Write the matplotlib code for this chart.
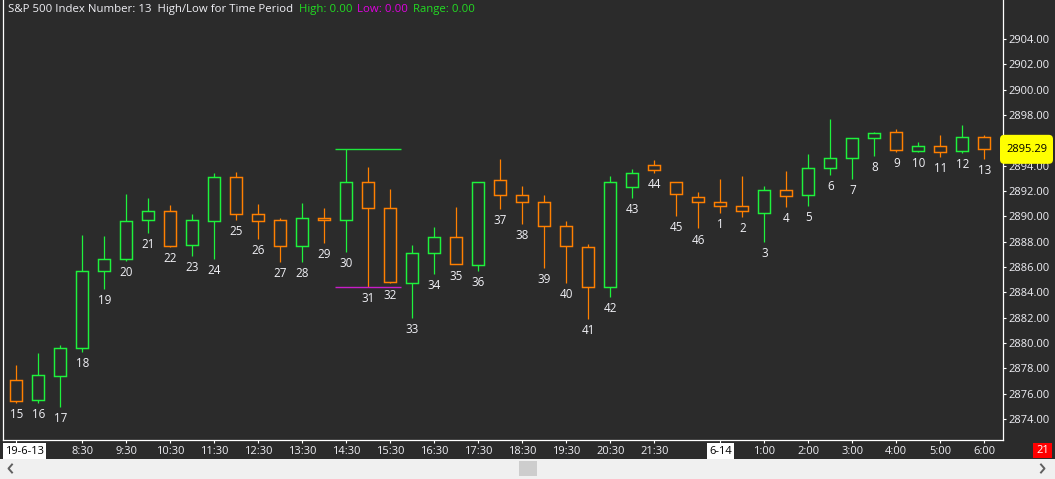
import matplotlib
matplotlib.use("Agg")
import matplotlib.pyplot as plt
from matplotlib.patches import Rectangle, FancyBboxPatch
from matplotlib.lines import Line2D
import matplotlib.transforms as mtransforms

# ---------------- data ----------------
bar_numbers = [15, 16, 17, 18, 19, 20, 21, 22, 23, 24, 25, 26, 27, 28, 29, 30,
               31, 32, 33, 34, 35, 36, 37, 38, 39, 40, 41, 42, 43, 44, 45, 46,
               1, 2, 3, 4, 5, 6, 7, 8, 9, 10, 11, 12, 13]
opens = [2877.05, 2875.50, 2877.40, 2879.60, 2885.65, 2886.60, 2889.70, 2890.40,
         2887.70, 2889.60, 2893.10, 2890.15, 2889.70, 2887.65, 2889.85, 2889.70,
         2892.70, 2890.65, 2884.70, 2887.10, 2888.35, 2886.15, 2892.85, 2891.65,
         2891.10, 2889.20, 2887.55, 2884.40, 2892.35, 2894.05, 2892.70, 2891.50,
         2891.10, 2890.85, 2890.30, 2892.05, 2891.65, 2893.85, 2894.60, 2896.15,
         2896.65, 2895.15, 2895.55, 2895.15, 2896.30]
highs = [2878.25, 2879.20, 2879.85, 2888.50, 2888.45, 2891.75, 2891.45, 2890.90,
         2890.20, 2893.40, 2893.50, 2890.95, 2889.90, 2891.05, 2890.65, 2895.35,
         2893.90, 2892.15, 2887.70, 2889.15, 2890.70, 2892.75, 2894.55, 2892.40,
         2891.65, 2889.65, 2887.85, 2893.20, 2893.75, 2894.45, 2892.70, 2891.90,
         2892.95, 2893.20, 2892.40, 2893.60, 2894.90, 2897.70, 2896.15, 2896.65,
         2896.90, 2895.90, 2896.40, 2897.20, 2896.40]
lows = [2875.25, 2875.25, 2874.95, 2879.30, 2884.25, 2886.45, 2888.70, 2887.60,
        2886.90, 2886.65, 2889.70, 2888.25, 2886.40, 2886.40, 2887.90, 2887.20,
        2884.40, 2884.70, 2881.95, 2885.45, 2886.20, 2885.70, 2890.60, 2889.40,
        2885.90, 2884.75, 2881.90, 2883.65, 2891.45, 2893.45, 2890.05, 2889.05,
        2890.25, 2889.95, 2888.00, 2890.75, 2890.85, 2893.30, 2892.95, 2894.80,
        2895.10, 2895.10, 2894.70, 2895.00, 2894.55]
closes = [2875.40, 2877.45, 2879.60, 2885.65, 2886.60, 2889.60, 2890.40, 2887.65,
          2889.70, 2893.10, 2890.15, 2889.60, 2887.65, 2889.90, 2889.70, 2892.70,
          2890.65, 2884.80, 2887.10, 2888.35, 2886.20, 2892.70, 2891.65, 2891.10,
          2889.20, 2887.65, 2884.40, 2892.70, 2893.40, 2893.65, 2891.80, 2891.10,
          2890.85, 2890.40, 2892.05, 2891.60, 2893.85, 2894.60, 2896.15, 2896.55,
          2895.20, 2895.55, 2895.05, 2896.30, 2895.29]

# bar number -> x-axis tick text
tick_at_bar = {15: '19-6-13', 18: '8:30', 20: '9:30', 22: '10:30', 24: '11:30',
               26: '12:30', 28: '13:30', 30: '14:30', 32: '15:30', 34: '16:30',
               36: '17:30', 38: '18:30', 40: '19:30', 42: '20:30', 44: '21:30',
               1: '6-14', 3: '1:00', 5: '2:00', 7: '3:00', 9: '4:00', 11: '5:00',
               13: '6:00'}
date_labels = ['19-6-13', '6-14']
period_bars = [30, 31, 32]       # bars of the high/low time period
y_ticks = [2874, 2876, 2878, 2880, 2882, 2884, 2886, 2888, 2890, 2892, 2894,
           2896, 2898, 2900, 2902, 2904]
title_main = "S&P 500 Index Number: 13  High/Low for Time Period"
title_high = "High: 0.00"
title_low = "Low: 0.00"
title_range = "Range: 0.00"
counter_text = "21"

# ---------------- style ----------------
BG = '#2b2b2b'
UP = '#1ef23c'
DOWN = '#ff8000'
TXT = '#f0f0f5'
FONT = ['Open Sans', 'DejaVu Sans']
FS = 8.0
FS_BAR = 8.4
FS_TITLE = 8.2

W, H = 1055, 479
fig = plt.figure(figsize=(W / 100, H / 100), dpi=100, facecolor=BG)
ax = fig.add_axes([3 / W, 39 / H, 1000 / W, 440 / H])
ax.set_facecolor(BG)

px_per_pt = 380 / 30.0
ax.set_ylim(2904 - 401 / px_per_pt, 2904 + 39 / px_per_pt)
ax.set_xlim((3 - 16.3) / 22.0, (1003 - 16.3) / 22.0)

body_w = 0.54
for i, (o, h, l, c, n) in enumerate(zip(opens, highs, lows, closes, bar_numbers)):
    col = UP if c >= o else DOWN
    ax.vlines(i, l, h, color=col, lw=0.9, zorder=2)
    lo, hi = min(o, c), max(o, c)
    ax.add_patch(Rectangle((i - body_w / 2, lo), body_w, max(hi - lo, 0.12),
                           facecolor=BG, edgecolor=col, lw=1.05, zorder=3))
    ax.annotate(str(n), (i, l), xytext=(0, -8.4), textcoords='offset points',
                ha='center', va='center', color=TXT, fontsize=FS_BAR, family=FONT)

# high/low for time period lines
pidx = [bar_numbers.index(b) for b in period_bars]
p_hi = max(highs[j] for j in pidx)
p_lo = min(lows[j] for j in pidx)
ax.hlines(p_hi, min(pidx) - 0.5, max(pidx) + 0.5, color='#1ee63c', lw=1.0, zorder=4)
ax.hlines(p_lo, min(pidx) - 0.5, max(pidx) + 0.5, color='#c81ec8', lw=1.0, zorder=4)

# spines
for s in ['left', 'bottom', 'right']:
    ax.spines[s].set_color('white')
    ax.spines[s].set_linewidth(0.9)
ax.spines['top'].set_visible(False)

# y axis on right
ax.yaxis.tick_right()
ax.set_yticks(y_ticks)
ax.set_yticklabels([f"{v:.2f}" for v in y_ticks])
ax.tick_params(axis='y', colors='white', labelcolor=TXT, length=2.5, width=0.8,
               pad=1.5, labelsize=FS)
for t in ax.get_yticklabels():
    t.set_family(FONT)

# x axis
tpos = [bar_numbers.index(b) for b in tick_at_bar]
tlab = [('' if s in date_labels else s) for s in tick_at_bar.values()]
ax.set_xticks(tpos)
ax.set_xticklabels(tlab)
ax.tick_params(axis='x', colors='white', labelcolor=TXT, length=2.5, width=0.8,
               pad=2.0, labelsize=FS)
for t in ax.get_xticklabels():
    t.set_family(FONT)

# date labels in white boxes
ylab = (H - 451) / H
trans_xd = mtransforms.blended_transform_factory(ax.transData, fig.transFigure)
for b, s in tick_at_bar.items():
    if s in date_labels:
        j = bar_numbers.index(b)
        if j == 0:
            fig.text(5 / W, ylab, s, ha='left', va='center', color='black',
                     fontsize=FS, family=FONT,
                     bbox=dict(boxstyle='square,pad=0.2', fc='white', ec='none'))
        else:
            ax.text(j, ylab, s, transform=trans_xd, ha='center', va='center',
                    color='black', fontsize=FS, family=FONT, clip_on=False,
                    bbox=dict(boxstyle='square,pad=0.2', fc='white', ec='none'))

# last price box
last = closes[-1]
trans_fy = mtransforms.blended_transform_factory(fig.transFigure, ax.transData)
box_h = 29 / px_per_pt
ax.add_patch(FancyBboxPatch((1000 / W, last - box_h / 2), 53 / W, box_h,
                            boxstyle='round,pad=0,rounding_size=0.004',
                            mutation_aspect=W / px_per_pt,
                            transform=trans_fy, facecolor='#ffff00',
                            edgecolor='none', clip_on=False, zorder=10))
ax.text(1026.5 / W, last, f"{last:.2f}", transform=trans_fy, ha='center',
        va='center', color='black', fontsize=FS, family=FONT, zorder=11,
        clip_on=False)

# title
ty = (H - 9.5) / H
fig.text(8 / W, ty, title_main, color=TXT, fontsize=FS_TITLE, family=FONT, va='center')
fig.text(299 / W, ty, title_high, color='#22dd22', fontsize=FS_TITLE, family=FONT, va='center')
fig.text(357 / W, ty, title_low, color='#e000e0', fontsize=FS_TITLE, family=FONT, va='center')
fig.text(413 / W, ty, title_range, color='#22dd22', fontsize=FS_TITLE, family=FONT, va='center')

# counter box
fig.patches.append(Rectangle((1033 / W, (H - 458) / H), 19 / W, 15 / H,
                             transform=fig.transFigure, facecolor='#ff0000',
                             edgecolor='none', zorder=5))
fig.text(1042.5 / W, (H - 450.5) / H, counter_text, color='white', fontsize=FS,
         family=FONT, ha='center', va='center', zorder=6)

# scrollbar
fig.patches.append(Rectangle((0, 0), 1, 20 / H, transform=fig.transFigure,
                             facecolor='#f0f0f0', edgecolor='none', zorder=5))
fig.patches.append(Rectangle((519 / W, 3 / H), 18 / W, 15 / H,
                             transform=fig.transFigure, facecolor='#cdcdcd',
                             edgecolor='none', zorder=6))
fig.add_artist(Line2D([12 / W, 8.5 / W, 12 / W], [(H - 464.5) / H, (H - 468.5) / H, (H - 472.5) / H],
                      transform=fig.transFigure, color='#606060', lw=1.4, zorder=7))
fig.add_artist(Line2D([1041 / W, 1044.5 / W, 1041 / W], [(H - 464.5) / H, (H - 468.5) / H, (H - 472.5) / H],
                      transform=fig.transFigure, color='#606060', lw=1.4, zorder=7))

fig.savefig('out.png', dpi=100, facecolor=BG)
